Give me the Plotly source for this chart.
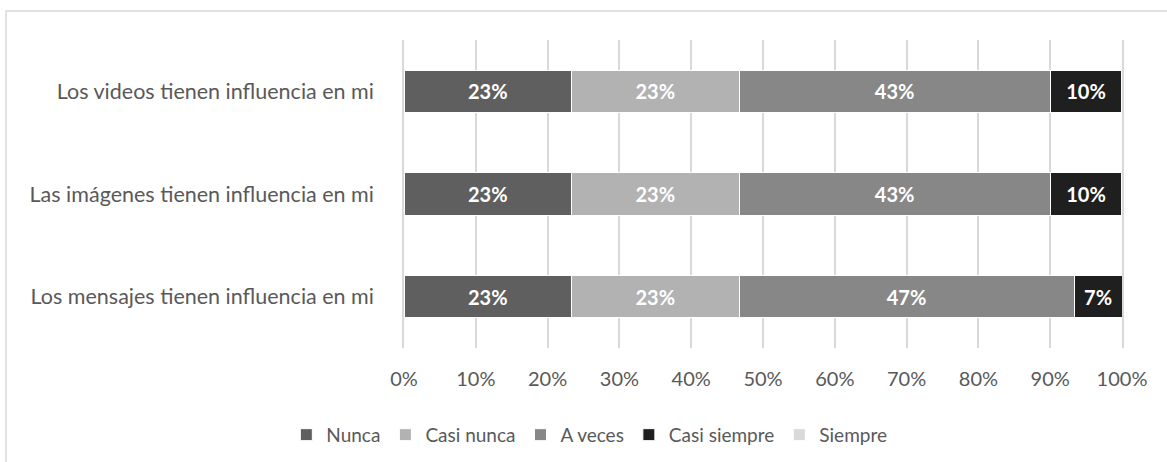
import plotly.graph_objects as go

categories = ["Los mensajes tienen influencia en mi",
              "Las imágenes tienen influencia en mi",
              "Los videos tienen influencia en mi"]
series_names = ["Nunca", "Casi nunca", "A veces", "Casi siempre", "Siempre"]
nunca = [23.33, 23.33, 23.33]
casi_nunca = [23.33, 23.33, 23.33]
a_veces = [46.67, 43.33, 43.33]
casi_siempre = [6.67, 10.0, 10.0]
siempre = [0.0, 0.0, 0.0]
tick_vals = [0, 10, 20, 30, 40, 50, 60, 70, 80, 90, 100]
tick_text = ["0%", "10%", "20%", "30%", "40%", "50%", "60%", "70%", "80%", "90%", "100%"]

colors = ["#5f5f5f", "#b2b2b2", "#878787", "#1f1f1f", "#d9d9d9"]
values = [nunca, casi_nunca, a_veces, casi_siempre, siempre]

W, H = 1167, 462
ML, MR, MT, MB = 404, 45, 40, 114
PW, PH = W - ML - MR, H - MT - MB

fig = go.Figure()
for name, vals, col in zip(series_names, values, colors):
    fig.add_trace(go.Bar(
        y=categories, x=vals, name=name, orientation="h",
        marker=dict(color=col, line=dict(color="white", width=1)),
        text=[f"{round(v):.0f}%" if v > 0 else "" for v in vals],
        textposition="inside", insidetextanchor="middle",
        textfont=dict(color="white", size=20, family="Lato", weight="bold"),
        constraintext="none",
        hoverinfo="skip",
    ))

fig.update_layout(
    barmode="stack",
    bargap=0.59,
    width=W, height=H,
    margin=dict(l=ML, r=MR, t=MT, b=MB),
    paper_bgcolor="white", plot_bgcolor="white",
    font=dict(family="Lato", color="#595959", size=20),
    xaxis=dict(range=[0, 100], tickvals=tick_vals, ticktext=tick_text,
               showgrid=True, gridcolor="#d9d9d9", gridwidth=1.5,
               zeroline=False, showline=False, ticks="",
               ticklabelstandoff=17,
               tickfont=dict(size=20, color="#595959")),
    yaxis=dict(categoryorder="array", categoryarray=categories,
               showgrid=False, showline=True, mirror=True,
               linecolor="#d9d9d9", linewidth=1.5, ticks="",
               ticklabelstandoff=24,
               tickfont=dict(size=21.5, color="#595959")),
    legend=dict(orientation="h", xref="container", x=0.505, xanchor="center",
                yref="container", y=0.1, yanchor="top",
                font=dict(size=19, color="#595959"), traceorder="normal",
                itemwidth=30),
    shapes=[dict(type="rect", xref="paper", yref="paper",
                 x0=(6 - ML) / PW, x1=(W + 20 - ML) / PW,
                 y0=-(MB + 30) / PH, y1=(PH + MT - 11) / PH,
                 line=dict(color="#d9d9d9", width=1.5), fillcolor="rgba(0,0,0,0)",
                 layer="below")],
)

fig.write_html("out.html")
